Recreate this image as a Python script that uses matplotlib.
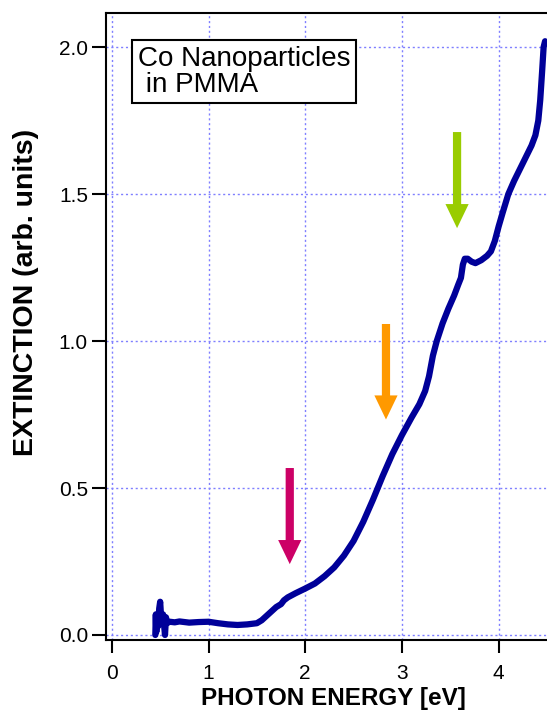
import matplotlib
matplotlib.use("Agg")
import matplotlib.pyplot as plt

plt.rcParams['font.family'] = ['Liberation Sans', 'DejaVu Sans']

# extinction spectrum
energy = [0.45, 0.455, 0.46, 0.47, 0.48, 0.49, 0.50, 0.51, 0.52, 0.53, 0.54, 0.55,
          0.56, 0.57, 0.60, 0.65, 0.70, 0.80, 0.90, 1.00, 1.10, 1.20, 1.30, 1.40,
          1.50, 1.55, 1.60, 1.65, 1.70, 1.75, 1.78, 1.82, 1.90, 2.00, 2.10, 2.20,
          2.30, 2.40, 2.50, 2.60, 2.70, 2.80, 2.90, 3.00, 3.10, 3.18, 3.24, 3.28,
          3.32, 3.36, 3.42, 3.48, 3.54, 3.58, 3.61, 3.63, 3.65, 3.68, 3.72, 3.76,
          3.82, 3.88, 3.92, 3.96, 4.00, 4.04, 4.10, 4.16, 4.22, 4.28, 4.34, 4.38,
          4.41, 4.43, 4.45, 4.465, 4.48]
extinction = [0.0, 0.07, 0.01, 0.06, 0.03, 0.09, 0.113, 0.06, 0.04, 0.07, 0.035, 0.0,
              0.06, 0.04, 0.045, 0.043, 0.046, 0.042, 0.044, 0.045, 0.04, 0.036, 0.034, 0.036,
              0.04, 0.05, 0.065, 0.08, 0.095, 0.105, 0.118, 0.128, 0.142, 0.158, 0.175, 0.20,
              0.23, 0.27, 0.32, 0.385, 0.46, 0.54, 0.615, 0.68, 0.74, 0.785, 0.83, 0.88,
              0.95, 1.00, 1.06, 1.11, 1.155, 1.19, 1.215, 1.26, 1.28, 1.28, 1.27, 1.265,
              1.275, 1.29, 1.305, 1.34, 1.39, 1.435, 1.50, 1.545, 1.585, 1.625, 1.665, 1.70,
              1.75, 1.82, 1.92, 2.0, 2.02]

# arrows marking the features
arrow_x = [1.84, 2.835, 3.57]
arrow_top = [0.568, 1.058, 1.711]
arrow_tip = [0.241, 0.733, 1.384]
arrow_colors = ['#cc0066', '#ff9900', '#99cc00']

xticks = [0, 1, 2, 3, 4]
yticks = [0.0, 0.5, 1.0, 1.5, 2.0]

fig = plt.figure(figsize=(5.47, 7.11), dpi=100)
ax = fig.add_axes([0.1938, 0.0999, 0.8062, 0.8818])

ax.plot(energy, extinction, color='#000099', lw=4.5, solid_capstyle='round',
        solid_joinstyle='round', zorder=3)

for x, top, tip, c in zip(arrow_x, arrow_top, arrow_tip, arrow_colors):
    ax.arrow(x, top, 0, tip - top, width=0.085, head_width=0.24, head_length=0.082,
             length_includes_head=True, color=c, lw=0, zorder=4)

ax.set_xlim(-0.06, 4.5)
ax.set_ylim(-0.017, 2.116)
ax.set_xticks(xticks)
ax.set_yticks(yticks)
ax.set_xticklabels([str(t) for t in xticks])
ax.set_yticklabels(['%.1f' % t for t in yticks])
ax.grid(True, color='#7f7fff', ls=(0, (1.5, 2)), lw=1.0)
ax.set_axisbelow(True)

ax.spines['right'].set_visible(False)
for s in ['left', 'top', 'bottom']:
    ax.spines[s].set_linewidth(1.5)
ax.tick_params(axis='x', direction='out', length=9.5, width=1.5, labelsize=15, pad=8)
ax.tick_params(axis='y', direction='out', length=10, width=1.5, labelsize=15, pad=3)

ax.set_xlabel('PHOTON ENERGY [eV]', fontsize=17.5, fontweight='bold')
ax.set_ylabel('EXTINCTION (arb. units)', fontsize=20.5, fontweight='bold')
ax.xaxis.set_label_coords(0.515, -0.075)
ax.yaxis.set_label_coords(-0.153, 0.555)

ax.text(0.072, 0.948, 'Co Nanoparticles\n in PMMA', transform=ax.transAxes,
        fontsize=20, ha='left', va='top', linespacing=1.0, zorder=5,
        bbox=dict(boxstyle='square,pad=0.2', fc='white', ec='black', lw=1.5))

fig.savefig('out.png', dpi=100)
